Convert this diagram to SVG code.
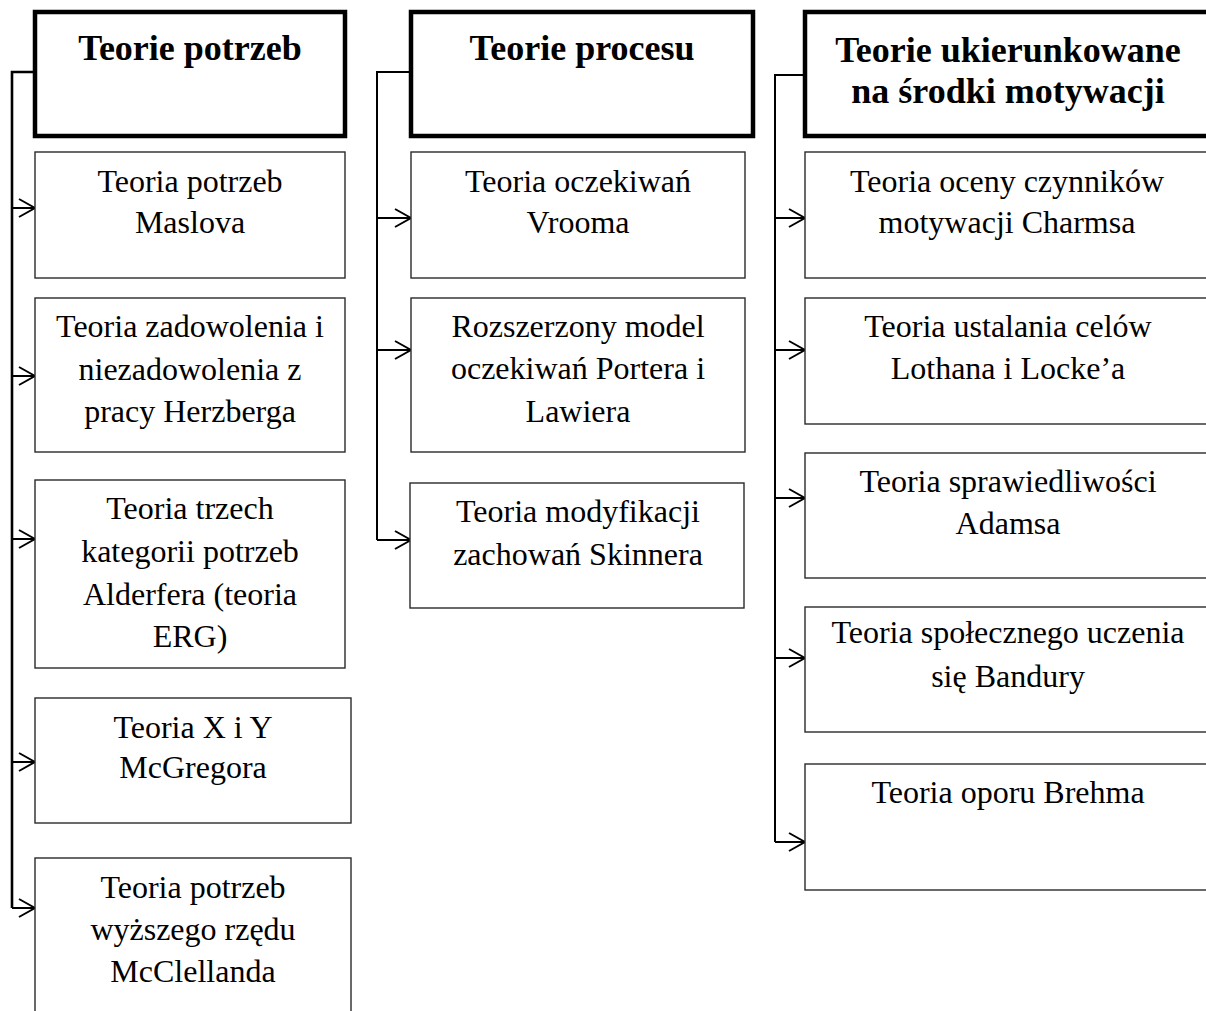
<svg xmlns="http://www.w3.org/2000/svg" width="1206" height="1011" viewBox="0 0 1206 1011">
<style>
.hdr{fill:#fff;stroke:#000;stroke-width:4.5}
.box{fill:#fff;stroke:#2a2a2a;stroke-width:1.4}
.ht{font-family:"Liberation Serif","Times New Roman",serif;font-weight:bold;font-size:36px;text-anchor:middle;fill:#000}
.bt{font-family:"Liberation Serif","Times New Roman",serif;font-size:32px;text-anchor:middle;fill:#000}
.ln{fill:none;stroke:#000;stroke-width:2}
.ar{fill:none;stroke:#000;stroke-width:2;marker-end:url(#arr)}
</style>
<defs>
<marker id="arr" markerUnits="userSpaceOnUse" markerWidth="20" markerHeight="20" viewBox="0 0 20 20" refX="18" refY="10" orient="auto">
<path d="M2,1 L18,10 L2,19" fill="none" stroke="#000" stroke-width="2"/>
</marker>
</defs>
<rect width="1206" height="1011" fill="#fff"/>
<g id="connectors">
<path class="ln" d="M35,72 H12 V908" style="stroke-width:2.6"/>
<line class="ar" x1="12" y1="208" x2="35" y2="208"/>
<line class="ar" x1="12" y1="376" x2="35" y2="376"/>
<line class="ar" x1="12" y1="539" x2="35" y2="539"/>
<line class="ar" x1="12" y1="762" x2="35" y2="762"/>
<line class="ar" x1="12" y1="908" x2="35" y2="908"/>
<path class="ln" d="M411,72 H377 V540"/>
<line class="ar" x1="377" y1="218" x2="411" y2="218"/>
<line class="ar" x1="377" y1="350" x2="411" y2="350"/>
<line class="ar" x1="377" y1="540" x2="411" y2="540"/>
<path class="ln" d="M805,75 H775 V842"/>
<line class="ar" x1="775" y1="218" x2="805" y2="218"/>
<line class="ar" x1="775" y1="350" x2="805" y2="350"/>
<line class="ar" x1="775" y1="498" x2="805" y2="498"/>
<line class="ar" x1="775" y1="658" x2="805" y2="658"/>
<line class="ar" x1="775" y1="842" x2="805" y2="842"/>
</g>
<g id="h1">
<rect class="hdr" x="35" y="12" width="310" height="124"/>
<text class="ht" x="190" y="60">Teorie potrzeb</text>
</g>
<g id="h2">
<rect class="hdr" x="411" y="12" width="342" height="124"/>
<text class="ht" x="582" y="60">Teorie procesu</text>
</g>
<g id="h3">
<rect class="hdr" x="805" y="12" width="410" height="124"/>
<text class="ht" x="1008" y="62">Teorie ukierunkowane</text>
<text class="ht" x="1008" y="103">na środki motywacji</text>
</g>
<g id="c1b1">
<rect class="box" x="35" y="152" width="310" height="126"/>
<text class="bt" x="190" y="192">Teoria potrzeb</text>
<text class="bt" x="190" y="233">Maslova</text>
</g>
<g id="c1b2">
<rect class="box" x="35" y="298" width="310" height="154"/>
<text class="bt" x="190" y="337">Teoria zadowolenia i</text>
<text class="bt" x="190" y="380">niezadowolenia z</text>
<text class="bt" x="190" y="422">pracy Herzberga</text>
</g>
<g id="c1b3">
<rect class="box" x="35" y="480" width="310" height="188"/>
<text class="bt" x="190" y="519">Teoria trzech</text>
<text class="bt" x="190" y="562">kategorii potrzeb</text>
<text class="bt" x="190" y="605">Alderfera (teoria</text>
<text class="bt" x="190" y="647">ERG)</text>
</g>
<g id="c1b4">
<rect class="box" x="35" y="698" width="316" height="125"/>
<text class="bt" x="193" y="738">Teoria X i Y</text>
<text class="bt" x="193" y="778">McGregora</text>
</g>
<g id="c1b5">
<rect class="box" x="35" y="858" width="316" height="165"/>
<text class="bt" x="193" y="898">Teoria potrzeb</text>
<text class="bt" x="193" y="940">wyższego rzędu</text>
<text class="bt" x="193" y="982">McClellanda</text>
</g>
<g id="c2b1">
<rect class="box" x="411" y="152" width="334" height="126"/>
<text class="bt" x="578" y="192">Teoria oczekiwań</text>
<text class="bt" x="578" y="233">Vrooma</text>
</g>
<g id="c2b2">
<rect class="box" x="411" y="298" width="334" height="154"/>
<text class="bt" x="578" y="337">Rozszerzony model</text>
<text class="bt" x="578" y="379">oczekiwań Portera i</text>
<text class="bt" x="578" y="422">Lawiera</text>
</g>
<g id="c2b3">
<rect class="box" x="410" y="483" width="334" height="125"/>
<text class="bt" x="578" y="522">Teoria modyfikacji</text>
<text class="bt" x="578" y="565">zachowań Skinnera</text>
</g>
<g id="c3b1">
<rect class="box" x="805" y="152" width="404" height="126"/>
<text class="bt" x="1007" y="192">Teoria oceny czynników</text>
<text class="bt" x="1007" y="233">motywacji Charmsa</text>
</g>
<g id="c3b2">
<rect class="box" x="805" y="298" width="404" height="126"/>
<text class="bt" x="1008" y="337">Teoria ustalania celów</text>
<text class="bt" x="1008" y="379">Lothana i Locke’a</text>
</g>
<g id="c3b3">
<rect class="box" x="805" y="453" width="404" height="125"/>
<text class="bt" x="1008" y="492">Teoria sprawiedliwości</text>
<text class="bt" x="1008" y="534">Adamsa</text>
</g>
<g id="c3b4">
<rect class="box" x="805" y="607" width="404" height="125"/>
<text class="bt" x="1008" y="643">Teoria społecznego uczenia</text>
<text class="bt" x="1008" y="687">się Bandury</text>
</g>
<g id="c3b5">
<rect class="box" x="805" y="764" width="404" height="126"/>
<text class="bt" x="1008" y="803">Teoria oporu Brehma</text>
</g>
</svg>
